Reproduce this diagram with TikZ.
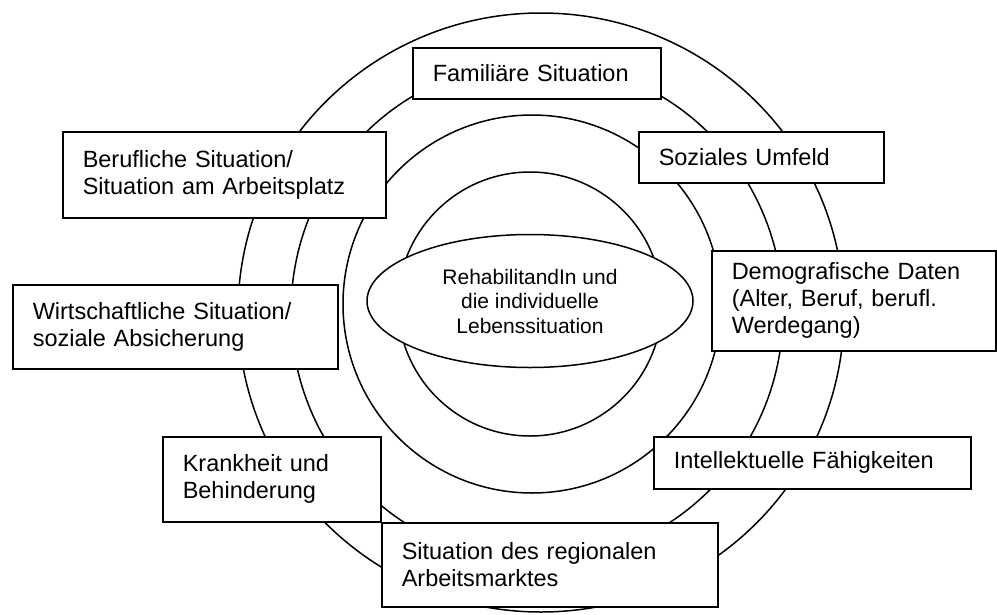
\documentclass[tikz,border=0pt]{standalone}
\usepackage{fontspec}
\setmainfont{Liberation Sans}
\usetikzlibrary{shapes.geometric}
\begin{document}
\begin{tikzpicture}[x=1pt,y=-1pt,
  ring/.style={draw=black, line width=1.5pt},
  infobox/.style={draw=black, fill=white, line width=1.5pt, rectangle,
    anchor=north west, inner xsep=20pt, inner ysep=0pt, align=left,
    font=\fontsize{23.5}{27}\selectfont},
  core/.style={draw=black, fill=white, line width=1.5pt, ellipse,
    inner sep=0pt, align=center, minimum width=326pt, minimum height=133pt,
    font=\fontsize{21}{24.5}\selectfont}]
\useasboundingbox (0,0) rectangle (997,614);

% concentric rings, outermost first
\draw[ring] (541,312.5) ellipse [x radius=303pt, y radius=299.5pt];
\draw[ring] (537,312) ellipse [x radius=246pt, y radius=250pt];
\draw[ring] (532,304) ellipse [x radius=189pt, y radius=189pt];
\draw[ring] (530,304) ellipse [x radius=132pt, y radius=132pt];

% centre
\node[core] (centre) at (530,301) {RehabilitandIn und\\die individuelle\\Lebenssituation};

% surrounding factors
\node[infobox, text width=208pt, minimum height=51pt] (familie) at (412,47) {Familiäre Situation};
\node[infobox, text width=283pt, minimum height=86pt] (beruf) at (62,131) {Berufliche Situation/\\Situation am Arbeitsplatz};
\node[infobox, text width=205pt, minimum height=51pt] (sozial) at (638,131) {Soziales Umfeld};
\node[infobox, text width=244pt, minimum height=100pt] (demo) at (711,250) {Demografische Daten\\(Alter, Beruf, berufl.\\Werdegang)};
\node[infobox, text width=285pt, minimum height=84pt] (wirtschaft) at (12,284) {Wirtschaftliche Situation/\\soziale Absicherung};
\node[infobox, text width=178pt, minimum height=85pt] (krank) at (162,436) {Krankheit und\\Behinderung};
\node[infobox, text width=277pt, minimum height=52pt] (intellekt) at (653,436) {Intellektuelle Fähigkeiten};
\node[infobox, text width=296pt, minimum height=84pt] (markt) at (381,522) {Situation des regionalen\\Arbeitsmarktes};
\end{tikzpicture}
\end{document}
